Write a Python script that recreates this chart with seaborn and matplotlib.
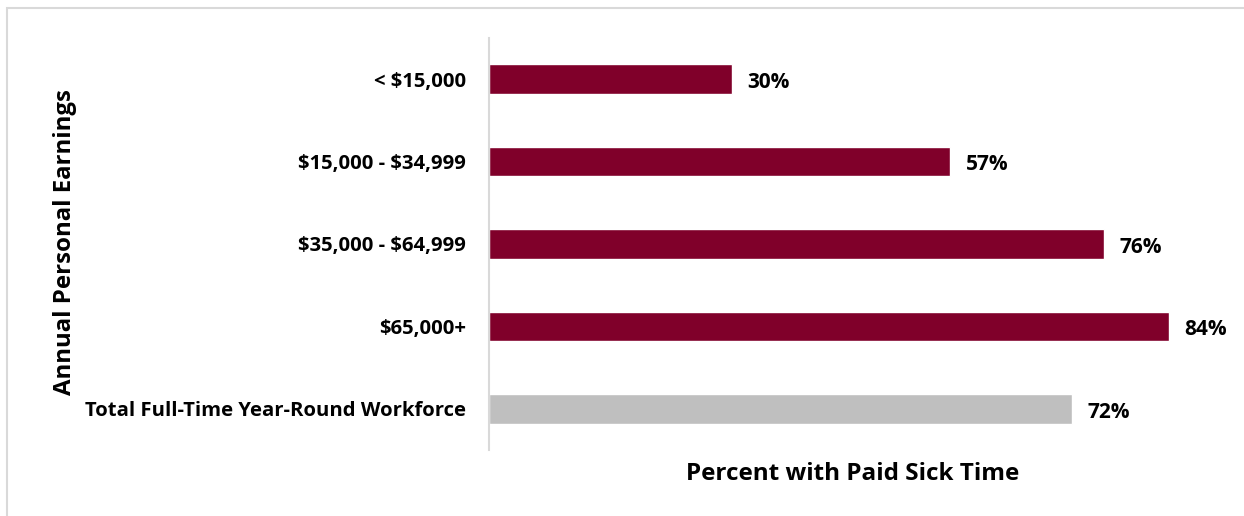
import matplotlib
matplotlib.use("Agg")
import matplotlib.pyplot as plt
import seaborn as sns
import pandas as pd
from matplotlib.patches import Rectangle

# Share of full-time, year-round workers with paid sick time, by annual earnings
categories = ["< $15,000", "$15,000 - $34,999", "$35,000 - $64,999", "$65,000+",
              "Total Full-Time Year-Round Workforce"]
percent_paid_sick = [30, 57, 76, 84, 72]
group = ["band", "band", "band", "band", "total"]

df = pd.DataFrame({"category": categories, "pct": percent_paid_sick, "group": group})

sns.set_theme(style="white")
plt.rcParams["font.family"] = ["Open Sans", "DejaVu Sans"]
plt.rcParams["font.weight"] = "bold"
plt.rcParams["text.parse_math"] = False

fig = plt.figure(figsize=(12.44, 5.16), dpi=100)
fig.patch.set_facecolor("white")

# light grey frame around the chart area
fig.patches.append(Rectangle((7 / 1244, -0.01), 1.02, (516 - 8) / 516 + 0.01,
                             transform=fig.transFigure, fill=False,
                             edgecolor="#D9D9D9", linewidth=1.5))

ax = fig.add_axes([489 / 1244, 66 / 516, (1232 - 489) / 1244, 412 / 516])

palette = {"band": "#80002A", "total": "#BFBFBF"}
sns.barplot(data=df, x="pct", y="category", hue="group", palette=palette,
            dodge=False, legend=False, width=0.36, ax=ax, saturation=1)

for i, v in enumerate(percent_paid_sick):
    ax.text(v + 1.9, i + 0.04, f"{v}%", va="center", ha="left",
            fontsize=15, fontweight="bold", color="black")

ax.set_xlim(0, (1232 - 489) / 8.095)
ax.set_ylim(4.5, -0.5)
ax.set_xticks([])
for side in ["top", "right", "bottom"]:
    ax.spines[side].set_visible(False)
ax.spines["left"].set_color("#D9D9D9")
ax.spines["left"].set_linewidth(1.5)
ax.tick_params(axis="y", length=0, pad=16.5, labelsize=14.6)
for lbl in ax.get_yticklabels():
    lbl.set_fontweight("bold")
    lbl.set_color("black")

ax.set_ylabel("")
ax.set_xlabel("")
fig.text(853 / 1244, 1 - 474 / 516, "Percent with Paid Sick Time", ha="center",
         va="center", fontsize=17.5, fontweight="bold", color="black")
fig.text(65 / 1244, 1 - 242 / 516, "Annual Personal Earnings", ha="center",
         va="center", rotation=90, fontsize=17.3, fontweight="bold", color="black")

fig.savefig("out.png", dpi=100, facecolor="white")
